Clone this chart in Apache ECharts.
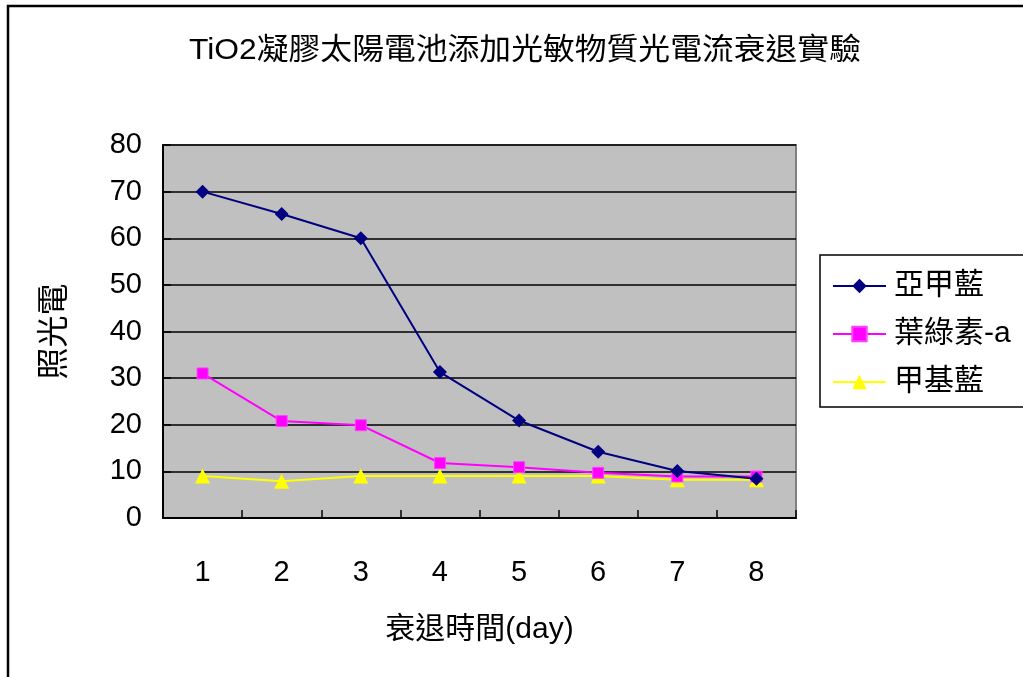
<!DOCTYPE html>
<html>
<head>
<meta charset="utf-8">
<title>TiO2凝膠太陽電池添加光敏物質光電流衰退實驗</title>
<script src="https://cdn.jsdelivr.net/npm/echarts@6/dist/echarts.min.js"></script>
<style>
  html, body { margin: 0; padding: 0; background: #ffffff; }
  #chart { width: 1023px; height: 677px; }
</style>
</head>
<body>
<div id="chart"></div>
<script>
// Decay days on the x axis
const days = ['1', '2', '3', '4', '5', '6', '7', '8'];

// Photocurrent readings for each photosensitizer
const methyleneBlueLike = [70, 65.2, 60, 31.3, 20.9, 14.2, 10.1, 8.4];   // 亞甲藍
const chlorophyllA = [31, 20.8, 19.9, 11.8, 10.9, 9.7, 8.9, 8.9];        // 葉綠素-a
const methylBlue = [9, 7.9, 9, 9, 9, 9, 8.2, 8.2];                       // 甲基藍

const seriesNames = ['亞甲藍', '葉綠素-a', '甲基藍'];
const titleText = 'TiO2凝膠太陽電池添加光敏物質光電流衰退實驗';
const xAxisTitle = '衰退時間(day)';
const yAxisTitle = '照光電';

const FONT = '"Liberation Sans", Arial, "Noto Sans CJK TC", sans-serif';

const chart = echarts.init(document.getElementById('chart'), null, { renderer: 'canvas' });

chart.setOption({
  backgroundColor: '#ffffff',
  animation: false,
  textStyle: { fontFamily: FONT },
  graphic: [
    {
      type: 'rect',
      silent: true,
      shape: { x: 8, y: 6, width: 1200, height: 900 },
      style: { fill: 'none', stroke: '#000000', lineWidth: 2.5 }
    },
    {
      type: 'text',
      silent: true,
      x: 525,
      y: 51,
      scaleX: 1.06,
      style: {
        text: titleText,
        fontFamily: FONT,
        fontSize: 30,
        fill: '#000000',
        align: 'center',
        verticalAlign: 'middle'
      }
    }
  ],
  grid: {
    left: 163,
    right: 227,
    top: 145,
    bottom: 159,
    show: true,
    backgroundColor: '#c0c0c0',
    borderColor: '#808080',
    borderWidth: 2
  },
  legend: {
    orient: 'vertical',
    left: 820,
    top: 255,
    padding: [16, 40, 10, 12],
    itemGap: 18,
    itemWidth: 53,
    itemHeight: 18,
    borderColor: '#000000',
    borderWidth: 1.5,
    backgroundColor: '#ffffff',
    textStyle: { fontFamily: FONT, fontSize: 30, color: '#000000', padding: [0, 0, 0, 3] },
    data: seriesNames
  },
  xAxis: {
    type: 'category',
    data: days,
    boundaryGap: true,
    name: xAxisTitle,
    nameLocation: 'middle',
    nameGap: 97,
    nameTextStyle: { fontFamily: FONT, fontSize: 30, color: '#000000' },
    axisLine: { lineStyle: { color: '#000000', width: 2 } },
    axisTick: { show: true, inside: true, length: 8, alignWithLabel: false, lineStyle: { color: '#000000', width: 1.5 } },
    axisLabel: { fontFamily: FONT, fontSize: 29, color: '#000000', margin: 40 },
    splitLine: { show: false }
  },
  yAxis: {
    type: 'value',
    min: 0,
    max: 80,
    interval: 10,
    name: yAxisTitle,
    nameLocation: 'middle',
    nameGap: 92,
    nameRotate: 90,
    nameTextStyle: { fontFamily: FONT, fontSize: 32, color: '#000000' },
    axisLine: { show: true, lineStyle: { color: '#000000', width: 2 } },
    axisTick: { show: true, inside: true, length: 8, lineStyle: { color: '#000000', width: 1.5 } },
    axisLabel: { fontFamily: FONT, fontSize: 29, color: '#000000', margin: 21 },
    splitLine: { show: true, lineStyle: { color: '#000000', width: 1.5 } }
  },
  series: [
    {
      name: seriesNames[0],
      type: 'line',
      data: methyleneBlueLike,
      symbol: 'diamond',
      symbolSize: 14,
      itemStyle: { color: '#000080' },
      lineStyle: { color: '#000080', width: 2 },
      z: 4
    },
    {
      name: seriesNames[1],
      type: 'line',
      data: chlorophyllA,
      symbol: 'rect',
      symbolSize: 11,
      itemStyle: { color: '#ff00ff', borderColor: '#ff40ff', borderWidth: 1 },
      lineStyle: { color: '#ff00ff', width: 2 },
      z: 3
    },
    {
      name: seriesNames[2],
      type: 'line',
      data: methylBlue,
      symbol: 'triangle',
      symbolSize: 15,
      itemStyle: { color: '#ffff00' },
      lineStyle: { color: '#ffff00', width: 2 },
      z: 2
    }
  ]
});
</script>
</body>
</html>
